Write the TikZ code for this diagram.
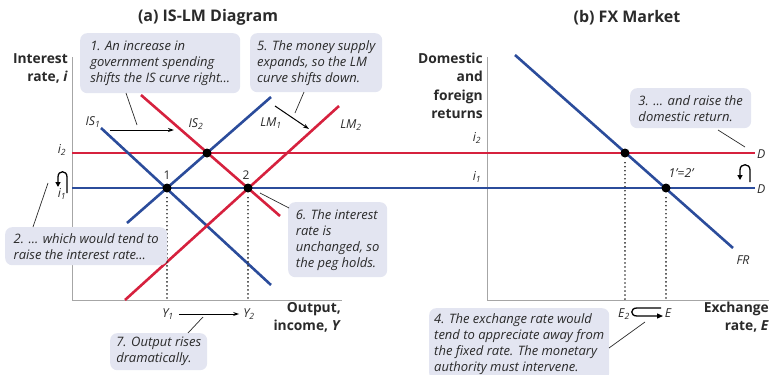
\documentclass[tikz,border=0pt]{standalone}
\usepackage{fontspec}
\setmainfont{Open Sans}
\usetikzlibrary{arrows.meta}
\definecolor{myblue}{HTML}{2B4C9B}
\definecolor{myred}{HTML}{D6213E}
\definecolor{callout}{HTML}{E3E5F1}
\definecolor{txt}{HTML}{2A2A2A}
\begin{document}
\begin{tikzpicture}[x=1pt,y=-1pt,
  curve/.style={line width=2.6pt},
  bluec/.style={curve,draw=myblue},
  redc/.style={curve,draw=myred},
  axisline/.style={draw=gray!70,line width=1pt},
  guide/.style={draw=black!85,line width=1.8pt,dash pattern=on 0.01pt off 4pt,line cap=round},
  dot/.style={circle,fill=black,inner sep=0pt,minimum size=9pt},
  callbox/.style={fill=callout,rounded corners=7pt,anchor=north west,align=left,inner sep=3pt,font=\itshape\fontsize{13}{16}\selectfont,text=txt},
  ptr/.style={draw=txt,line width=0.7pt},
  sarrow/.style={draw=black,line width=1pt,-{Stealth[length=6pt,width=4pt]}},
  lbl/.style={font=\itshape\fontsize{12.3}{14}\selectfont,text=txt,inner sep=1pt},
  ttl/.style={font=\bfseries\fontsize{16}{18}\selectfont,text=txt},
  axlbl/.style={font=\bfseries\fontsize{13.8}{18.3}\selectfont,align=right,text=txt,inner sep=0pt},
  ]
\useasboundingbox (0,0) rectangle (769,375);
\clip (0,0) rectangle (769,375);

% ---------- titles
\node[ttl] (ta) at (208,17) {(a) IS-LM Diagram};
\node[ttl] (tb) at (627,18) {(b) FX Market};

% ---------- axes left
\coordinate (lo) at (72,300);
\coordinate (ltop) at (72,57);
\coordinate (lright) at (342,300);
\draw[axisline] (ltop) -- (lo) -- (lright);
% axes right
\coordinate (ro) at (487,300);
\coordinate (rtop) at (487,57);
\coordinate (rright) at (769,300);
\draw[axisline] (rtop) -- (ro) -- (rright);

% ---------- horizontal interest lines
\coordinate (i2a) at (72,153); \coordinate (i2b) at (755,153);
\coordinate (i1a) at (72,188); \coordinate (i1b) at (755,188);
\draw[redc] (i2a) -- (i2b);
\draw[bluec] (i1a) -- (i1b);

% ---------- IS-LM curves
\coordinate (is1a) at (101,128); \coordinate (is1b) at (271,285);
\coordinate (is2a) at (141,95);  \coordinate (is2b) at (280,216);
\coordinate (lm1a) at (127,223); \coordinate (lm1b) at (271,97);
\coordinate (lm2a) at (125,300); \coordinate (lm2b) at (339,106);
\draw[bluec] (lm1a) -- (lm1b);
\draw[bluec] (is1a) -- (is1b);
\draw[redc] (lm2a) -- (lm2b);
\draw[redc] (is2a) -- (is2b);

% ---------- FR curve
\coordinate (fra) at (515,55); \coordinate (frb) at (733,248);
\draw[bluec] (fra) -- (frb);

% ---------- dotted guides
\coordinate (g1) at (167,300); \coordinate (g2) at (248,300);
\coordinate (g3) at (625,300); \coordinate (g4) at (666,300);
\node[dot] (pA) at (167,188) {};
\node[dot] (pB) at (207,153) {};
\node[dot] (pC) at (248,188) {};
\node[dot] (pD) at (625,153) {};
\node[dot] (pE) at (666,188) {};
\draw[guide] (pA.south) ++(0,5) -- (g1);
\draw[guide] (pC.south) ++(0,5) -- (g2);
\draw[guide] (pD.south) ++(0,5) -- (g3);
\draw[guide] (pE.south) ++(0,5) -- (g4);

% ---------- point labels
\node[font=\fontsize{12}{14}\selectfont,text=txt] (n1) at (167,175) {1};
\node[font=\fontsize{12}{14}\selectfont,text=txt] (n2) at (246,175) {2};
\node[lbl] (n12) at (681,173) {1\textquoteright{}=2\textquoteright};

% ---------- curve labels
\node[lbl] (lis1) at (93,122) {IS\textsubscript{1}};
\node[lbl] (lis2) at (196,124) {IS\textsubscript{2}};
\node[lbl] (llm1) at (271,123) {LM\textsubscript{1}};
\node[lbl] (llm2) at (351,125) {LM\textsubscript{2}};
\node[lbl] (lfr) at (743,260) {FR};
\node[lbl,anchor=west] (ld2) at (756,154) {D};
\node[lbl,anchor=west] (ld1) at (756,189) {D};

% shift arrows
\coordinate (isA) at (110,130); \coordinate (isB) at (174,130);
\draw[sarrow] (isA) -- (isB);
\coordinate (lmA) at (275,106); \coordinate (lmB) at (309,129);
\draw[sarrow] (lmA) -- (lmB);

% ---------- axis value labels
\node[lbl] (li2) at (62,150) {i\textsubscript{2}};
\node[lbl] (li1) at (62,194) {i\textsubscript{1}};
\node[lbl] (ri2) at (477,138) {i\textsubscript{2}};
\node[lbl] (ri1) at (477,177) {i\textsubscript{1}};
\node[lbl] (ly1) at (168,314) {Y\textsubscript{1}};
\node[lbl] (ly2) at (249,314) {Y\textsubscript{2}};
\node[lbl] (le2) at (624,314) {E\textsubscript{2}};
\node[lbl] (le) at (668,313) {E};

% Y1 -> Y2 arrow
\draw[sarrow] (ly1.east) ++(4,0) coordinate (yA) -- ([xshift=-3pt]ly2.west);

% hook arrows
\coordinate (hl1) at (67,193); \coordinate (hl2) at (58,187);
\draw[line width=1.3pt,-{Triangle[length=5pt,width=5pt]}] (hl1) -- (67,177) .. controls (67,170) and (58,170) .. (58,177) -- (hl2);
\coordinate (hr1) at (750,182); \coordinate (hr2) at (740,180);
\draw[line width=1.3pt,-{Triangle[length=5pt,width=5pt]}] (hr1) -- (750,170) .. controls (750,163) and (740,163) .. (740,170) -- (hr2);
\coordinate (he1) at (661,308); \coordinate (he2) at (663,316);
\draw[line width=1.3pt,-{Triangle[length=6pt,width=5pt]}] (he1) -- (637,308) .. controls (630,308) and (630,316) .. (637,316) -- (he2);

% ---------- axis titles
\node[axlbl,anchor=north east] (yl) at (68,53) {Interest\\rate, \textit{i}};
\node[axlbl,anchor=north east] (xl) at (341,302) {Output,\\income, \textit{Y}};
\node[axlbl,anchor=north east] (ryl) at (483,53) {Domestic\\and\\foreign\\returns};
\node[axlbl,anchor=north east] (rxl) at (769,302) {Exchange\\rate, \textit{E}};

% ---------- callouts
\node[callbox,minimum width=160pt,minimum height=60pt] (c1) at (80,33)
  {1. An increase in\\government spending\\shifts the IS curve right...};
\node[callbox,minimum width=132pt,minimum height=59pt] (c5) at (250,33)
  {5. The money supply\\expands, so the LM\\curve shifts down.};
\node[callbox,minimum width=162pt,minimum height=38pt] (c2) at (5,227)
  {2. ... which would tend to\\raise the interest rate...};
\node[callbox,minimum width=99pt,minimum height=75pt] (c6) at (288,202)
  {6. The interest\\rate is\\unchanged, so\\the peg holds.};
\node[callbox,minimum width=97pt,minimum height=37pt] (c7) at (110,333)
  {7. Output rises\\dramatically.};
\node[callbox,minimum width=121pt,minimum height=40pt] (c3) at (630,88)
  {3. ... and raise the\\domestic return.};
\node[callbox,minimum width=180pt,minimum height=72pt] (c4) at (429,308)
  {4. The exchange rate would\\tend to appreciate away from\\the fixed rate. The monetary\\authority must intervene.};

% callout pointers
\coordinate (p1) at (137,125); \draw[ptr] (126,93) -- (p1);
\coordinate (p5) at (295,113); \draw[ptr] (304,92) -- (p5);
\coordinate (p2) at (48,183);  \draw[ptr] (33,227) -- (p2);
\coordinate (p6) at (260,193); \draw[ptr] (289,208) -- (p6);
\coordinate (p7) at (203,317); \draw[ptr] (188,333) -- (p7);
\coordinate (p3) at (745,147); \draw[ptr] (718,130) -- (p3);
\coordinate (p4) at (645,322); \draw[ptr] (609,348) -- (p4);
\end{tikzpicture}
\end{document}
